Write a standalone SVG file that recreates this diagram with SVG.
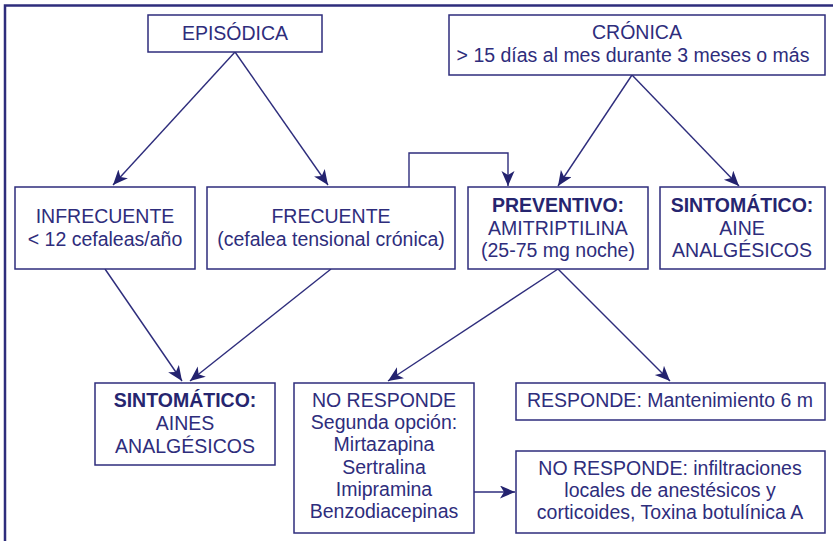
<svg xmlns="http://www.w3.org/2000/svg" width="833" height="541" viewBox="0 0 833 541">
<style>
.box{fill:#fff;stroke:#2e2d7c;stroke-width:1.5}
.t{font-family:"Liberation Sans",Arial,sans-serif;font-size:19.5px;fill:#2e2d7c;text-anchor:middle}
.b{font-weight:bold;fill:#26256f}
.c{fill:none;stroke:#2e2d7c;stroke-width:1.4}
</style>
<defs>
<marker id="ah" markerUnits="userSpaceOnUse" markerWidth="16" markerHeight="14" refX="15" refY="6.5" orient="auto">
<path d="M0,0 L15,6.5 L0,13 L4,6.5 z" fill="#24236f"/>
</marker>
</defs>
<rect x="0" y="0" width="833" height="541" fill="#fff"/>
<path d="M5,541 V5.5 H833" fill="none" stroke="#2e2d7c" stroke-width="2.5"/>
<g id="connectors">
<line class="c" x1="235" y1="52" x2="113" y2="185" marker-end="url(#ah)"/>
<line class="c" x1="235" y1="52" x2="328" y2="185" marker-end="url(#ah)"/>
<line class="c" x1="632" y1="75" x2="558" y2="186" marker-end="url(#ah)"/>
<line class="c" x1="632" y1="75" x2="739" y2="186" marker-end="url(#ah)"/>
<polyline class="c" points="409,187 409,153 508,153 508,186" marker-end="url(#ah)"/>
<line class="c" x1="105" y1="269" x2="182" y2="381" marker-end="url(#ah)"/>
<line class="c" x1="331" y1="269" x2="190" y2="381" marker-end="url(#ah)"/>
<line class="c" x1="558" y1="269" x2="388" y2="381" marker-end="url(#ah)"/>
<line class="c" x1="558" y1="269" x2="670" y2="381" marker-end="url(#ah)"/>
<line class="c" x1="474" y1="492" x2="515" y2="492" marker-end="url(#ah)"/>
</g>
<g id="episodica"><rect class="box" x="148" y="15" width="174" height="37"/><text class="t" x="235" y="40">EPISÓDICA</text></g>
<g id="cronica"><rect class="box" x="449" y="15" width="376" height="60"/><text class="t" x="637" y="39">CRÓNICA</text><text class="t" x="633" y="62">&gt; 15 días al mes durante 3 meses o más</text></g>
<g id="infrecuente"><rect class="box" x="15" y="187" width="180" height="82"/><text class="t" x="105" y="223">INFRECUENTE</text><text class="t" x="105" y="246">&lt; 12 cefaleas/año</text></g>
<g id="frecuente"><rect class="box" x="207" y="187" width="248" height="82"/><text class="t" x="331" y="223">FRECUENTE</text><text class="t" x="331" y="246">(cefalea tensional crónica)</text></g>
<g id="preventivo"><rect class="box" x="468" y="187" width="180" height="82"/><text class="t b" x="558" y="212">PREVENTIVO:</text><text class="t" x="558" y="235">AMITRIPTILINA</text><text class="t" x="558" y="257">(25-75 mg noche)</text></g>
<g id="sintomatico-cronica"><rect class="box" x="660" y="187" width="165" height="82"/><text class="t b" x="742" y="212">SINTOMÁTICO:</text><text class="t" x="742" y="235">AINE</text><text class="t" x="742" y="257">ANALGÉSICOS</text></g>
<g id="sintomatico-episodica"><rect class="box" x="95" y="383" width="180" height="82"/><text class="t b" x="185" y="407">SINTOMÁTICO:</text><text class="t" x="185" y="430">AINES</text><text class="t" x="185" y="453">ANALGÉSICOS</text></g>
<g id="no-responde-1"><rect class="box" x="294" y="383" width="180" height="150"/>
<text class="t" x="384" y="407">NO RESPONDE</text><text class="t" x="384" y="429">Segunda opción:</text><text class="t" x="384" y="451">Mirtazapina</text><text class="t" x="384" y="474">Sertralina</text><text class="t" x="384" y="496">Imipramina</text><text class="t" x="384" y="518">Benzodiacepinas</text></g>
<g id="responde"><rect class="box" x="516" y="383" width="309" height="37"/><text class="t" x="670" y="407">RESPONDE: Mantenimiento 6 m</text></g>
<g id="no-responde-2"><rect class="box" x="516" y="451" width="309" height="82"/><text class="t" x="670" y="475">NO RESPONDE: infiltraciones</text><text class="t" x="670" y="497">locales de anestésicos y</text><text class="t" x="670" y="519">corticoides, Toxina botulínica A</text></g>
</svg>
